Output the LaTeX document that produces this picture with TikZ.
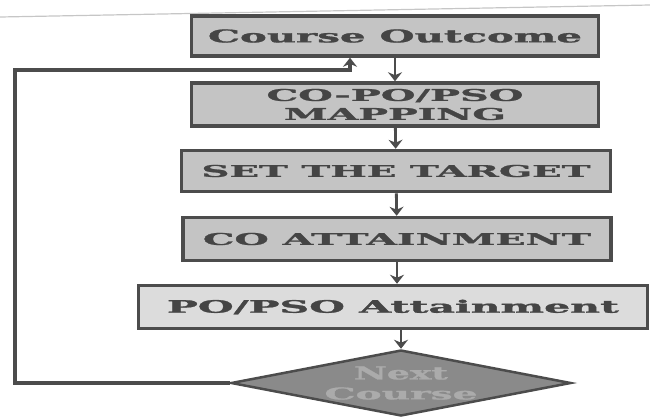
\documentclass[tikz,border=0pt]{standalone}
\usepackage{fontspec}
\usepackage{graphicx}
\usetikzlibrary{shapes.geometric, arrows.meta}
\newfontfamily\boxfont{DejaVu Serif}[BoldFeatures={FakeBold=1.2}]
\definecolor{boxgray}{HTML}{C4C4C4}
\definecolor{lightgray}{HTML}{DCDCDC}
\definecolor{edgegray}{HTML}{4C4C4C}
\definecolor{inkgray}{HTML}{454545}
\definecolor{diagray}{HTML}{8A8A8A}
\definecolor{softgray}{HTML}{ABABAB}
\newcommand{\boxtext}[3][12]{\resizebox{#2pt}{#1pt}{\boxfont\bfseries #3}}

\begin{document}
\begin{tikzpicture}[x=1pt, y=-1pt,
		stage/.style={draw=edgegray, line width=3.5pt, fill=boxgray, text=inkgray, inner sep=0pt, align=center, font=\fontsize{13}{19}\selectfont},
		flow/.style={draw=edgegray, line width=2.8pt, -{Stealth[length=9pt, width=14pt]}}]
		\useasboundingbox (0,0) rectangle (650,416);
		\draw[gray!45, line width=1.2pt] (0,17) -- (650,5);
		\node[stage, minimum width=407, minimum height=40] (co) at (395,36) {\boxtext[13]{374}{Course Outcome}};
		\node[stage, minimum width=407, minimum height=43] (map) at (395,104.5) {\boxtext{257}{CO-PO/PSO}\\\boxtext{222}{MAPPING}};
		\node[stage, minimum width=429, minimum height=41] (target) at (396,171) {\boxtext{389}{SET THE TARGET}};
		\node[stage, minimum width=428, minimum height=43] (coatt) at (397,239) {\boxtext{388}{CO ATTAINMENT}};
		\node[stage, fill=lightgray, minimum width=509, minimum height=43] (poatt) at (393,307) {\boxtext[13]{452}{PO/PSO Attainment}};
		\node[diamond, draw=edgegray, line width=2.5pt, fill=diagray, text=softgray, aspect=5.2, inner sep=0pt, minimum width=340, minimum height=66, align=center, font=\fontsize{13}{20}\selectfont] (next) at (401,383) {\boxtext[13]{94}{Next}\\\boxtext{153}{Course}};
		\coordinate (corner) at (15,70);
		\draw[flow] (co) -- (map);
		\draw[flow] (map) -- (target);
		\draw[flow] (target) -- (coatt);
		\draw[flow] (coatt) -- (poatt.north -| coatt);
		\draw[flow] (poatt.south -| next) -- (next);
		\draw[flow, line width=3.2pt] (next.west) -| (corner) -| ([xshift=-45pt]co.south);
	\end{tikzpicture}
\end{document}
